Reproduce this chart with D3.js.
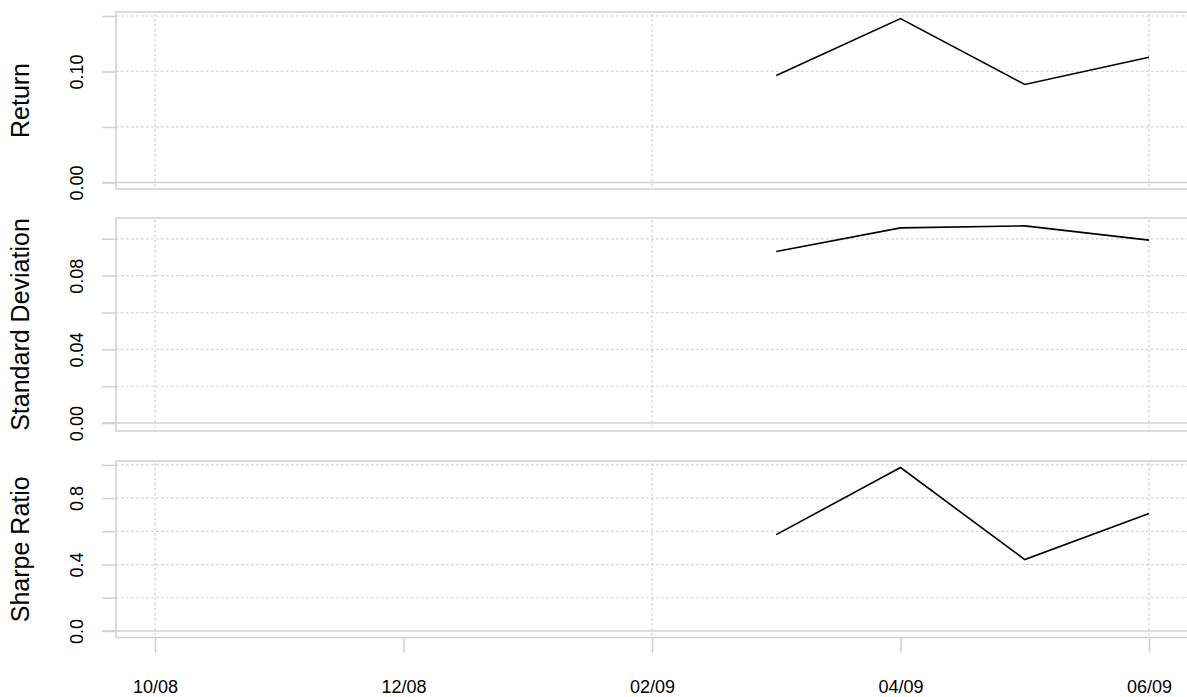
<!DOCTYPE html>
<html>
<head>
<meta charset="utf-8">
<script src="https://cdn.jsdelivr.net/npm/d3@7"></script>
<style>
  html, body { margin: 0; padding: 0; background: #fff; }
  svg { display: block; font-family: "Liberation Sans", Arial, Helvetica, sans-serif; }
</style>
</head>
<body>
<svg id="chart" width="1187" height="697"></svg>
<script>
// monthly index on x, rolling stats start at 03/09
const months = ["10/08", "11/08", "12/08", "01/09", "02/09", "03/09", "04/09", "05/09", "06/09"];
const returnVals = [null, null, null, null, null, 0.0964, 0.1477, 0.0883, 0.1129];
const sdVals     = [null, null, null, null, null, 0.0931, 0.1059, 0.1070, 0.0993];
const sharpeVals = [null, null, null, null, null, 0.580, 0.984, 0.430, 0.708];

const returnTicks = [0, 0.05, 0.10, 0.15];
const returnLabels = ["0.00", null, "0.10", null];
const sdTicks = [0, 0.02, 0.04, 0.06, 0.08, 0.10];
const sdLabels = ["0.00", null, "0.04", null, "0.08", null];
const sharpeTicks = [0, 0.2, 0.4, 0.6, 0.8, 1.0];
const sharpeLabels = ["0.0", null, "0.4", null, "0.8", null];

const xTickIdx = [0, 2, 4, 6, 8];
const xGridIdx = [0, 4, 8];

const svg = d3.select("#chart");
const LEFT = 116, RIGHT = 1200;
const GRID = "#d0d0d0";

const x = d3.scaleLinear().domain([0, months.length - 1]).range([155, 1149]);

function panel(top, bottom, title, vals, ticks, labels) {
  const defined = vals.filter(v => v != null);
  const lo = Math.min(0, d3.min(defined)), hi = d3.max(defined);
  const pad = (hi - lo) * 0.04;
  const y = d3.scaleLinear().domain([lo - pad, hi + pad]).range([bottom, top]);

  const g = svg.append("g");

  // horizontal dotted grid
  g.selectAll(".hgrid").data(ticks.filter(t => t !== 0)).join("line")
    .attr("x1", LEFT).attr("x2", RIGHT)
    .attr("y1", d => y(d)).attr("y2", d => y(d))
    .attr("stroke", GRID).attr("stroke-width", 1.2).attr("stroke-dasharray", "2.5 2.5");

  // vertical dotted grid
  g.selectAll(".vgrid").data(xGridIdx).join("line")
    .attr("x1", d => x(d)).attr("x2", d => x(d))
    .attr("y1", top + 2).attr("y2", bottom)
    .attr("stroke", GRID).attr("stroke-width", 1.2).attr("stroke-dasharray", "2.5 2.5");

  // solid zero line
  g.append("line")
    .attr("x1", LEFT - 14).attr("x2", RIGHT)
    .attr("y1", y(0)).attr("y2", y(0))
    .attr("stroke", GRID).attr("stroke-width", 1.5);

  // box
  g.append("rect")
    .attr("x", LEFT).attr("y", top)
    .attr("width", RIGHT - LEFT).attr("height", bottom - top)
    .attr("fill", "none").attr("stroke", GRID).attr("stroke-width", 1.5);

  // y axis
  const ax = g.append("g").attr("transform", `translate(${LEFT},0)`)
    .call(d3.axisLeft(y).tickValues(ticks).tickSize(14)
      .tickFormat((d, i) => labels[i] || ""));
  ax.select(".domain").remove();
  ax.selectAll(".tick line").attr("stroke", GRID).attr("stroke-width", 1.5);
  ax.selectAll(".tick text")
    .attr("transform", "rotate(-90)")
    .attr("x", 0).attr("y", -33).attr("dy", 0)
    .attr("text-anchor", "middle")
    .attr("font-size", 18).attr("fill", "#000")
    .attr("font-family", "Liberation Sans, Arial, sans-serif");

  // series
  const line = d3.line()
    .defined(d => d != null)
    .x((d, i) => x(i))
    .y(d => y(d));
  g.append("path").datum(vals)
    .attr("fill", "none").attr("stroke", "#000").attr("stroke-width", 1.6)
    .attr("d", line);

  // title
  g.append("text")
    .attr("transform", `translate(29,${(top + bottom) / 2}) rotate(-90)`)
    .attr("text-anchor", "middle")
    .attr("font-size", 25).attr("fill", "#000")
    .text(title);

  return y;
}

panel(12, 189, "Return", returnVals, returnTicks, returnLabels);
panel(218, 431, "Standard Deviation", sdVals, sdTicks, sdLabels);
panel(461, 637.5, "Sharpe Ratio", sharpeVals, sharpeTicks, sharpeLabels);

// x axis under bottom panel
const xa = svg.append("g").attr("transform", "translate(0,637.5)")
  .call(d3.axisBottom(x).tickValues(xTickIdx).tickSize(15).tickFormat(i => months[i]));
xa.select(".domain").remove();
xa.selectAll(".tick line").attr("stroke", GRID).attr("stroke-width", 1.5);
xa.selectAll(".tick text")
  .attr("y", 55).attr("dy", 0)
  .attr("font-size", 18).attr("fill", "#000")
  .attr("font-family", "Liberation Sans, Arial, sans-serif");
</script>
</body>
</html>
